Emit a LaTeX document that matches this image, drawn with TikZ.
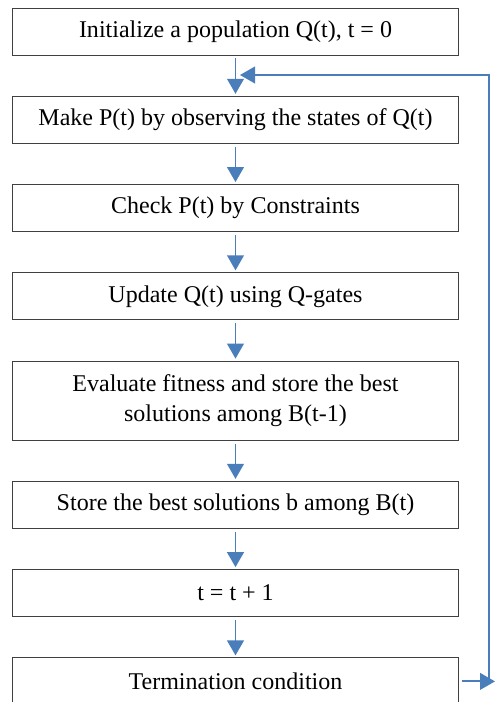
\documentclass[tikz,border=0pt]{standalone}
\usepackage{fontspec}
\setmainfont{Liberation Serif}
\usetikzlibrary{positioning, arrows.meta, calc}
\definecolor{flowblue}{HTML}{4A7EBB}
\begin{document}
\begin{tikzpicture}
  [stepbox/.style={draw=black!75,line width=0.8pt,rectangle,inner sep=0pt,minimum width=13.38cm,minimum height=1.41cm,align=center,font=\fontsize{20.5}{25.5}\selectfont},
   flow/.style={draw=flowblue,line width=1.7pt,-{Triangle[width=0.5cm,length=0.45cm]},shorten <=0.09cm,shorten >=0.06cm}]
  \useasboundingbox (0,0) rectangle (14.85,-21.06);
  \node (init) at (7.065,-0.945) [stepbox] {Initialize a population Q(t), t = 0};
  \node (observe) [stepbox,below=1.21 of init] {Make P(t) by observing the states of Q(t)};
  \node (check) [stepbox,below=1.21 of observe] {Check P(t) by Constraints};
  \node (update) [stepbox,below=1.21 of check] {Update Q(t) using Q-gates};
  \node (evaluate) [stepbox,minimum height=2.37cm,below=1.21 of update] {Evaluate fitness and store the best\\solutions among B(t-1)};
  \node (store) [stepbox,below=1.21 of evaluate] {Store the best solutions b among B(t)};
  \node (increment) [stepbox,below=1.21 of store] {t = t + 1};
  \node (term) [stepbox,below=1.21 of increment] {Termination condition};
  \draw [flow] (init) -- (observe);
  \draw [flow] (observe) -- (check);
  \draw [flow] (check) -- (update);
  \draw [flow] (update) -- (evaluate);
  \draw [flow] (evaluate) -- (store);
  \draw [flow] (store) -- (increment);
  \draw [flow] (increment) -- (term);
  % loop back to the top
  \coordinate (termtip) at (term.east -| 14.85,0);
  \coordinate (loopbot) at (term.east -| 14.67,0);
  \coordinate (loopin) at (7.2,-2.25);
  \draw [flow,shorten >=0pt] (term.east) -- (termtip);
  \draw [flow,shorten <=0pt,shorten >=0pt] (loopbot) |- (loopin);
\end{tikzpicture}
\end{document}
